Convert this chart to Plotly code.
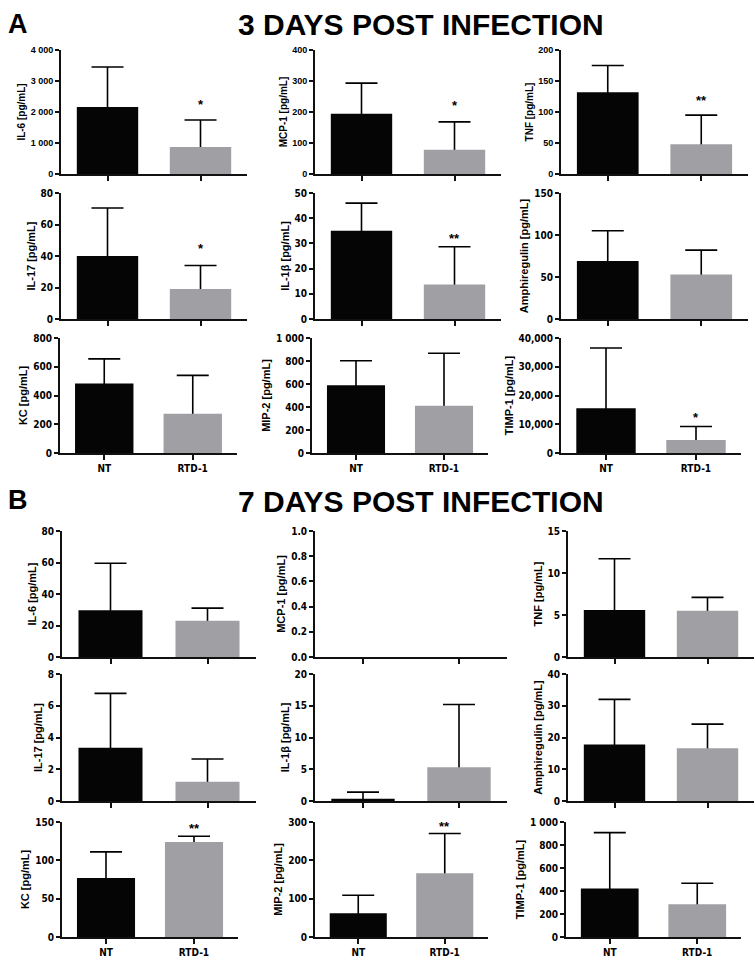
import plotly.graph_objects as go

W, H = 754, 960

categories = ["NT", "RTD-1"]
cytokines = ["IL-6", "MCP-1", "TNF", "IL-17", "IL-1β", "Amphiregulin", "KC", "MIP-2", "TIMP-1"]

# ---- Panel A: 3 days post infection (mean, SD) ----
a_mean = [[2160, 870], [194, 78], [132, 48],
          [40, 19], [35, 13.7], [69, 53],
          [484, 273], [590, 410], [15600, 4500]]
a_sd = [[1290, 870], [99, 90], [43, 47],
        [30.5, 15], [11, 15], [36, 29],
        [171, 267], [212, 458], [20900, 4700]]
a_stars = [["", "*"], ["", "*"], ["", "**"],
           ["", "*"], ["", "**"], ["", ""],
           ["", ""], ["", ""], ["", "*"]]
a_ticks = [[0, 1000, 2000, 3000, 4000], [0, 100, 200, 300, 400], [0, 50, 100, 150, 200],
           [0, 20, 40, 60, 80], [0, 10, 20, 30, 40, 50], [0, 50, 100, 150],
           [0, 200, 400, 600, 800], [0, 200, 400, 600, 800, 1000], [0, 10000, 20000, 30000, 40000]]
a_ticktext = [["0", "1 000", "2 000", "3 000", "4 000"], ["0", "100", "200", "300", "400"],
              ["0", "50", "100", "150", "200"],
              ["0", "20", "40", "60", "80"], ["0", "10", "20", "30", "40", "50"], ["0", "50", "100", "150"],
              ["0", "200", "400", "600", "800"], ["0", "200", "400", "600", "800", "1 000"],
              ["0", "10,000", "20,000", "30,000", "40,000"]]

# ---- Panel B: 7 days post infection (mean, SD) ----
b_mean = [[29.7, 23], [0, 0], [5.6, 5.5],
          [3.35, 1.22], [0.35, 5.3], [17.8, 16.6],
          [77, 124], [62, 166], [421, 284]]
b_sd = [[29.8, 8], [0, 0], [6.1, 1.6],
        [3.43, 1.43], [1.05, 9.9], [14.2, 7.6],
        [34, 7.5], [47, 104], [487, 183]]
b_stars = [["", ""], ["", ""], ["", ""],
           ["", ""], ["", ""], ["", ""],
           ["", "**"], ["", "**"], ["", ""]]
b_ticks = [[0, 20, 40, 60, 80], [0, 0.2, 0.4, 0.6, 0.8, 1.0], [0, 5, 10, 15],
           [0, 2, 4, 6, 8], [0, 5, 10, 15, 20], [0, 10, 20, 30, 40],
           [0, 50, 100, 150], [0, 100, 200, 300], [0, 200, 400, 600, 800, 1000]]
b_ticktext = [["0", "20", "40", "60", "80"], ["0.0", "0.2", "0.4", "0.6", "0.8", "1.0"],
              ["0", "5", "10", "15"],
              ["0", "2", "4", "6", "8"], ["0", "5", "10", "15", "20"], ["0", "10", "20", "30", "40"],
              ["0", "50", "100", "150"], ["0", "100", "200", "300"],
              ["0", "200", "400", "600", "800", "1 000"]]

panel_titles = ["3 DAYS POST INFECTION", "7 DAYS POST INFECTION"]
panel_letters = ["A", "B"]

# ---- styling / geometry (pixels) ----
BLACK = "#050505"
GREY = "#a0a0a4"
BAR_W = 0.66
row_specs = [
    (50, 174, [(61, 247), (315, 501), (561, 748)]),
    (193, 319, [(61, 247), (315, 501), (561, 748)]),
    (338, 453, [(60, 237), (312, 488), (561, 741)]),
    (531, 657, [(62, 256), (315, 507), (568, 754)]),
    (674, 801, [(62, 256), (315, 507), (568, 754)]),
    (822, 937, [(62, 238), (315, 488), (566, 741)]),
]
star_offsets = [[19, 19, 18, 20, 11, 12, 12, 12, 12],
                [11, 11, 11, 11, 11, 11, 11, 10, 11]]
REG = "Liberation Sans, Arial, sans-serif"
NARROW = "Liberation Sans Narrow, Arial Narrow, DejaVu Sans Condensed, Liberation Sans, sans-serif"

fig = go.Figure()
layout = {}
annotations = []

panels = [(a_mean, a_sd, a_stars, a_ticks, a_ticktext),
          (b_mean, b_sd, b_stars, b_ticks, b_ticktext)]

idx = 0
for p, (means, sds, stars, ticks, ttext) in enumerate(panels):
    for k in range(9):
        r = p * 3 + k // 3
        c = k % 3
        ytop, ybot, cols = row_specs[r]
        x0, x1 = cols[c]
        n = idx + 1
        xa = "x" if n == 1 else f"x{n}"
        ya = "y" if n == 1 else f"y{n}"
        xk = "xaxis" if n == 1 else f"xaxis{n}"
        yk = "yaxis" if n == 1 else f"yaxis{n}"
        has_err = any(s > 0 for s in sds[k])

        # carrier of the error whiskers (drawn beneath the visible bars)
        fig.add_trace(go.Bar(
            x=categories, y=means[k], xaxis=xa, yaxis=ya, width=BAR_W,
            marker=dict(color="rgba(0,0,0,0)", line=dict(width=0)),
            error_y=dict(type="data", symmetric=False, array=sds[k], arrayminus=means[k],
                         color="black", thickness=1.6, width=16, visible=has_err),
            hoverinfo="skip", showlegend=False))
        # visible bars
        fig.add_trace(go.Bar(
            x=categories, y=means[k], xaxis=xa, yaxis=ya, width=BAR_W,
            marker=dict(color=[BLACK, GREY], line=dict(width=0)),
            showlegend=False))

        tick_font = dict(family=REG if r == 0 else NARROW, size=9 if r == 0 else 10,
                         color="black", weight="bold")
        layout[xk] = dict(
            domain=[x0 / W, x1 / W], anchor=ya, type="category", range=[-0.5, 1.5],
            showline=True, linewidth=1.8, linecolor="#111",
            ticks="outside", ticklen=5, tickwidth=1.6, tickcolor="#111",
            showticklabels=(k // 3 == 2),
            tickfont=dict(family=NARROW, size=10, color="black", weight="bold"),
            showgrid=False, zeroline=False, fixedrange=True, automargin=False)
        layout[yk] = dict(
            domain=[1 - ybot / H, 1 - ytop / H], anchor=xa, range=[0, ticks[k][-1]],
            tickmode="array", tickvals=ticks[k], ticktext=ttext[k],
            showline=True, linewidth=1.8, linecolor="#111",
            ticks="outside", ticklen=4, tickwidth=1.6, tickcolor="#111",
            tickfont=tick_font,
            title=dict(text=f"{cytokines[k]} [pg/mL]", standoff=3,
                       font=dict(family=REG, size=10 if r == 0 else 11,
                                 color="black", weight="bold")),
            showgrid=False, zeroline=False, fixedrange=True, automargin=False)

        for j, s in enumerate(stars[k]):
            if s:
                annotations.append(dict(
                    x=categories[j], y=means[k][j] + sds[k][j], xref=xa, yref=ya,
                    text=s, showarrow=False, yanchor="middle",
                    yshift=star_offsets[p][k] - 3,
                    font=dict(family=REG, size=13, color="black", weight="bold")))
        idx += 1

# panel letters and titles
title_y = [25, 501]
for p in range(2):
    annotations.append(dict(
        x=18 / W, y=1 - (title_y[p] - 1) / H, xref="paper", yref="paper",
        text=panel_letters[p], showarrow=False, xanchor="center", yanchor="middle",
        font=dict(family=REG, size=27, color="black", weight="bold")))
    annotations.append(dict(
        x=421 / W, y=1 - title_y[p] / H, xref="paper", yref="paper",
        text=panel_titles[p], showarrow=False, xanchor="center", yanchor="middle",
        font=dict(family=REG, size=30, color="black", weight="bold")))

fig.update_layout(
    width=W, height=H, margin=dict(l=0, r=0, t=0, b=0),
    paper_bgcolor="white", plot_bgcolor="white",
    barmode="overlay", showlegend=False,
    annotations=annotations,
    font=dict(family=REG, color="black"),
    **layout)

fig.write_html("out.html",
               config={"displayModeBar": False},
               post_script="document.body.style.margin='0';document.body.style.padding='0';")
